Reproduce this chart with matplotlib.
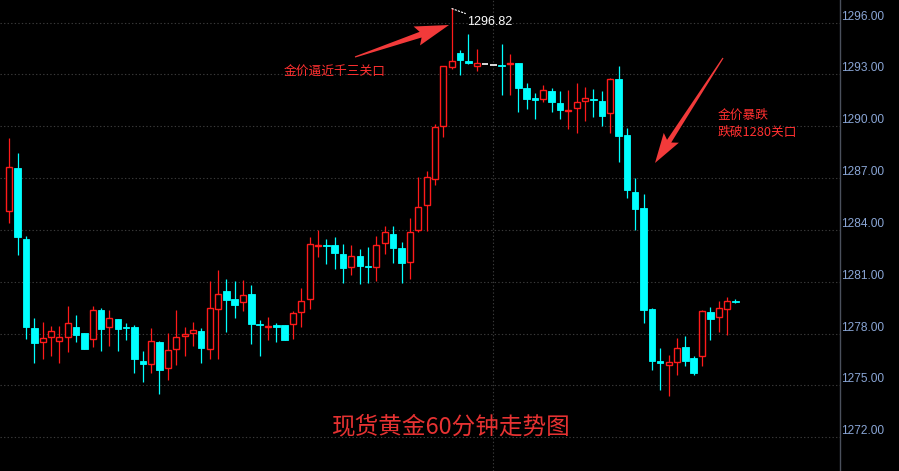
import numpy as np
import matplotlib.pyplot as plt
import matplotlib.patches as mpatches

plt.rcParams['font.family'] = ['Noto Sans CJK SC', 'DejaVu Sans']

# 60-minute gold candles (open, high, low, close)
opens = [1285.08, 1287.59, 1283.48, 1278.32, 1277.49, 1277.78, 1277.55, 1277.82, 1278.38, 1278.03,
         1277.70, 1279.36, 1278.36, 1278.84, 1278.35, 1278.38, 1276.41, 1276.25, 1277.51, 1276.02,
         1277.09, 1277.88, 1278.05, 1278.15, 1277.09, 1279.44, 1280.46, 1280.00, 1279.81, 1280.29,
         1278.55, 1278.40, 1278.48, 1278.50, 1278.54, 1279.23, 1279.98, 1283.08, 1283.15, 1283.13,
         1282.61, 1281.84, 1282.49, 1281.92, 1281.87, 1283.23, 1283.75, 1282.95, 1282.13, 1283.98,
         1285.43, 1286.93, 1290.00, 1293.45, 1294.25, 1293.78, 1293.48, 1293.63, 1293.53, 1293.53,
         1293.59, 1293.68, 1292.22, 1291.64, 1291.56, 1292.06, 1291.35, 1290.87, 1291.04, 1291.47,
         1291.57, 1291.47, 1290.75, 1292.74, 1289.50, 1286.20, 1285.27, 1279.42, 1276.41, 1276.20,
         1276.37, 1277.22, 1276.58, 1276.72, 1279.25, 1278.98, 1279.44, 1279.88]
highs = [1289.32, 1288.46, 1283.63, 1278.90, 1278.67, 1278.44, 1278.44, 1279.60, 1279.07, 1278.03,
         1279.60, 1279.48, 1279.36, 1278.84, 1278.61, 1278.50, 1276.99, 1278.32, 1277.57, 1278.03,
         1279.36, 1278.36, 1278.67, 1278.30, 1281.04, 1281.68, 1281.14, 1281.04, 1281.10, 1280.81,
         1278.79, 1278.96, 1278.61, 1278.50, 1279.31, 1280.64, 1283.61, 1284.00, 1283.48, 1283.59,
         1283.19, 1283.13, 1282.90, 1283.01, 1283.67, 1284.23, 1284.23, 1283.30, 1284.67, 1287.07,
         1287.41, 1290.13, 1293.50, 1296.82, 1294.40, 1295.35, 1294.48, 1293.63, 1293.53, 1294.78,
         1294.20, 1293.68, 1292.51, 1291.93, 1292.39, 1292.20, 1292.05, 1292.10, 1292.51, 1292.28,
         1292.16, 1292.05, 1292.80, 1293.49, 1289.89, 1287.01, 1286.08, 1279.46, 1277.16, 1276.76,
         1277.74, 1277.86, 1276.70, 1279.35, 1279.54, 1279.89, 1280.12, 1280.00]
lows = [1284.42, 1282.57, 1277.70, 1276.31, 1276.54, 1276.70, 1276.31, 1276.95, 1277.53, 1277.11,
        1277.22, 1277.01, 1277.30, 1277.01, 1277.63, 1275.73, 1275.21, 1275.73, 1274.52, 1275.33,
        1276.20, 1276.72, 1277.30, 1276.31, 1276.53, 1276.54, 1278.09, 1278.92, 1279.32, 1277.41,
        1276.72, 1277.64, 1277.53, 1277.64, 1277.70, 1278.40, 1279.40, 1282.45, 1282.03, 1281.74,
        1280.94, 1281.41, 1280.85, 1280.94, 1281.03, 1282.62, 1282.10, 1280.94, 1281.14, 1283.90,
        1283.94, 1286.62, 1289.36, 1293.32, 1292.99, 1293.63, 1293.20, 1293.63, 1293.53, 1291.83,
        1291.83, 1290.85, 1291.02, 1290.44, 1291.43, 1290.85, 1290.42, 1289.86, 1289.63, 1290.33,
        1290.56, 1290.02, 1289.63, 1287.95, 1285.87, 1284.00, 1278.63, 1275.91, 1274.75, 1274.40,
        1275.62, 1276.14, 1275.62, 1276.14, 1277.64, 1278.11, 1277.93, 1279.77]
closes = [1287.63, 1283.61, 1278.40, 1277.47, 1277.73, 1278.13, 1277.78, 1278.59, 1277.93, 1277.11,
          1279.36, 1278.28, 1278.88, 1278.28, 1278.30, 1276.54, 1276.25, 1277.57, 1275.91, 1277.03,
          1277.78, 1277.97, 1278.19, 1277.18, 1279.46, 1280.27, 1279.94, 1279.67, 1280.22, 1278.57,
          1278.50, 1278.45, 1278.40, 1277.64, 1279.17, 1279.87, 1283.19, 1283.15, 1283.08, 1282.68,
          1281.81, 1282.51, 1281.93, 1281.88, 1283.11, 1283.86, 1282.97, 1282.10, 1283.90, 1285.31,
          1287.05, 1289.94, 1293.48, 1293.76, 1293.84, 1293.67, 1293.65, 1293.63, 1293.53, 1293.48,
          1293.68, 1292.24, 1291.60, 1291.54, 1292.10, 1291.43, 1290.96, 1290.96, 1291.39, 1291.64,
          1291.50, 1290.61, 1292.74, 1289.46, 1286.33, 1285.23, 1279.38, 1276.43, 1276.31, 1276.35,
          1277.15, 1276.43, 1275.73, 1279.29, 1278.86, 1279.46, 1279.87, 1279.85]

price_ticks = [1272, 1275, 1278, 1281, 1284, 1287, 1290, 1293, 1296]
high_label = '1296.82'

RED = '#ff1a1a'
CYAN = '#00ffff'

fig = plt.figure(figsize=(8.99, 4.71), dpi=100, facecolor='black')
ax = fig.add_axes([0, 0, 840 / 899, 1])
ax.set_facecolor('black')

x = np.arange(len(opens))
o = np.array(opens)
h = np.array(highs)
l = np.array(lows)
c = np.array(closes)
up = c > o
down = c < o
flat = c == o

# grid
for p in price_ticks:
    ax.axhline(p, color='#3a3a3a', lw=0.8, ls=(0, (1.2, 2)), zorder=0)
ax.axvline(58, color='#3a3a3a', lw=0.8, ls=(0, (1.2, 2)), zorder=0)

# wicks
ax.vlines(x[up], l[up], h[up], colors=RED, lw=0.9, zorder=1)
ax.vlines(x[down], l[down], h[down], colors=CYAN, lw=0.9, zorder=1)

# bodies
ax.bar(x[up], c[up] - o[up], bottom=o[up], width=0.72, facecolor='black',
       edgecolor=RED, linewidth=1.0, zorder=2)
ax.bar(x[down], c[down] - o[down], bottom=o[down], width=0.78, facecolor=CYAN,
       edgecolor=CYAN, linewidth=0.6, zorder=2)
ax.hlines(o[flat], x[flat] - 0.4, x[flat] + 0.4, colors='white', lw=1.2, zorder=2)

ax.set_xlim(-1.11, 99.54)
ax.set_ylim(1270.04, 1297.31)
ax.set_xticks([])
ax.set_yticks(price_ticks)
ax.set_yticklabels([f'{v:.2f}' for v in price_ticks], fontsize=8.6,
                   family=['Liberation Sans'], color='#8aa6d6', va='bottom')
ax.yaxis.tick_right()
ax.tick_params(axis='y', length=0, pad=0.8)
for side in ['top', 'bottom', 'left']:
    ax.spines[side].set_visible(False)
ax.spines['right'].set_color('#4a505c')
ax.spines['right'].set_linewidth(1.0)

# highest price marker
i_max = int(np.argmax(h))
ax.plot([i_max, i_max + 1.7], [h[i_max], h[i_max] - 0.3], color='white', lw=0.8,
        ls=(0, (2, 1)), zorder=3)
ax.text(i_max + 1.8, h[i_max] - 0.76, high_label, color='white', fontsize=9,
        family=['Liberation Sans'], va='center', ha='left')


def arrow(tail, tip, head_len, head_w, shaft_w):
    # tapered arrow in image pixels (top-left origin)
    t = np.array(tail, float)
    p = np.array(tip, float)
    u = (p - t) / np.linalg.norm(p - t)
    n = np.array([-u[1], u[0]])
    b = p - u * head_len
    bb = b - u * 4
    pts = [t + n * 0.6, b + n * shaft_w / 2, bb + n * head_w / 2, p,
           bb - n * head_w / 2, b - n * shaft_w / 2, t - n * 0.6]
    pts = [(q[0] / 899, 1 - q[1] / 471) for q in pts]
    fig.patches.append(mpatches.Polygon(pts, closed=True, transform=fig.transFigure,
                                        facecolor='#f23a3a', edgecolor='none', zorder=5))


arrow((355, 57), (449, 25), 30, 20, 6)
arrow((723, 58), (655, 163), 26, 18, 5)

ax.text(32.83, 1293.12, '金价逼近千三关口', color='#ff3030', fontsize=9.2,
        va='center', ha='left')
ax.text(84.84, 1290.63, '金价暴跌', color='#ff3030', fontsize=9.2,
        va='center', ha='left')
ax.text(84.84, 1289.67, '跌破1280关口', color='#ff3030', fontsize=9.2,
        va='center', ha='left')
ax.text(52.93, 1272.61, '现货黄金60分钟走势图', color='#e63232', fontsize=17,
        va='center', ha='center')

fig.savefig('out.png', dpi=100, facecolor='black')
